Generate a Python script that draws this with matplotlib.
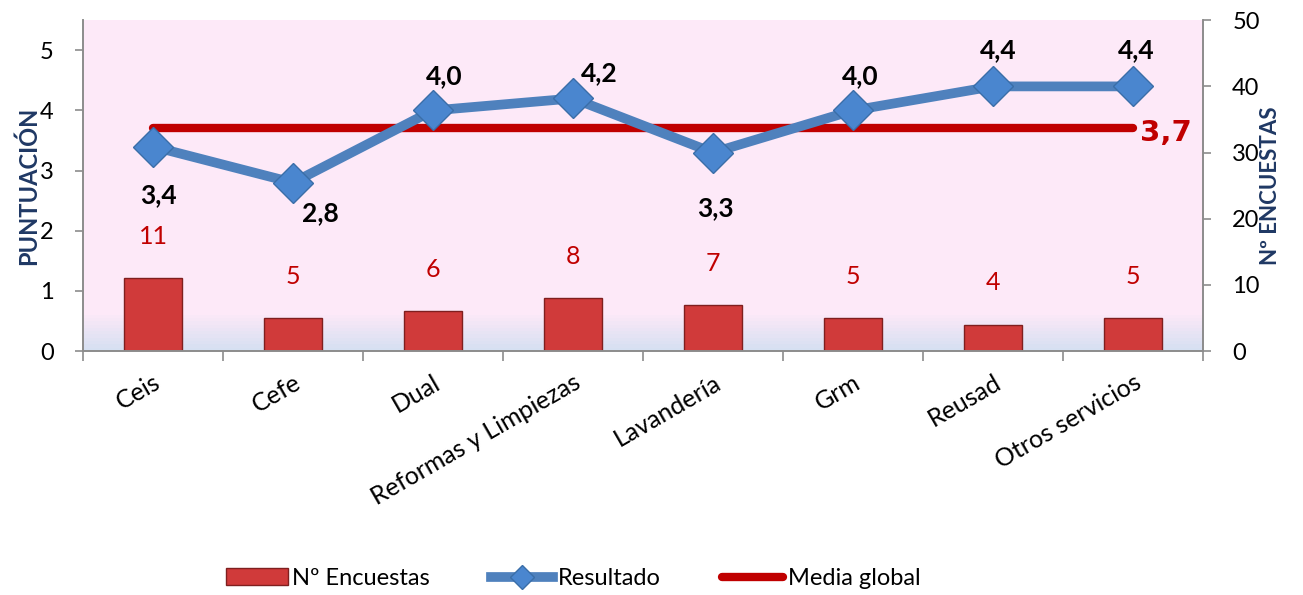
import matplotlib.pyplot as plt
import numpy as np
from matplotlib.lines import Line2D
from matplotlib.patches import Patch

plt.rcParams['font.family'] = ['Lato', 'DejaVu Sans']

categorias = ['Ceis', 'Cefe', 'Dual', 'Reformas y Limpiezas', 'Lavandería',
              'Grm', 'Reusad', 'Otros servicios']
resultado = [3.4, 2.8, 4.0, 4.2, 3.3, 4.0, 4.4, 4.4]
encuestas = [11, 5, 6, 8, 7, 5, 4, 5]
media_global = 3.7

# label offsets for the "Resultado" values (points)
off_res = [(4, -35), (20, -22), (8, 25), (19, 18), (2, -40), (5, 25), (4, 26), (2, 26)]

azul = '#4F81BD'
rojo = '#C00000'
gris = '#8C8C8C'

fig = plt.figure(figsize=(13.03, 5.95), dpi=100)
ax = fig.add_axes([0.0637, 0.410, 0.8596, 0.556])
ax2 = ax.twinx()

x = np.arange(len(categorias))

# background: pink with light blue fade at the bottom
grad = np.ones((100, 1, 3))
pink = np.array([253, 233, 248]) / 255
blue = np.array([214, 224, 242]) / 255
for i in range(100):
    t = i / 99
    f = min(1, max(0, (t - 0.89) / 0.11))
    grad[i, 0] = pink * (1 - f) + blue * f
ax2.imshow(grad, extent=[0, 1, 0, 1], transform=ax2.transAxes, aspect='auto',
           origin='upper', zorder=0)

# bars on the right axis
ax2.bar(x, encuestas, width=0.42, color='#D03A3A', edgecolor='#7F1F1F',
        linewidth=1, zorder=2)
for xi, v in zip(x, encuestas):
    ax2.annotate(str(v), (xi, v), xytext=(0, 30), textcoords='offset points',
                 ha='center', va='center', color=rojo, fontsize=18)
ax2.set_ylim(0, 50)
ax2.set_yticks(range(0, 51, 10))
ax2.set_ylabel('Nº ENCUESTAS', color='#1F3864', fontweight='bold', fontsize=16,
               labelpad=0)

# lines on the left axis, drawn above the bars
ax.set_zorder(ax2.get_zorder() + 1)
ax.patch.set_visible(False)
ax.plot([x[0], x[-1]], [media_global, media_global], color=rojo, lw=6,
        solid_capstyle='round', zorder=3)
ax.plot(x, resultado, color=azul, lw=7, marker='D', markersize=20,
        markerfacecolor='#4A86CF', markeredgecolor='#3A6EA8', zorder=4)
for xi, v, off in zip(x, resultado, off_res):
    ax.annotate(f'{v:.1f}'.replace('.', ','), (xi, v), xytext=off,
                textcoords='offset points', ha='center', va='center',
                fontsize=19, fontweight='bold', color='black')
ax.annotate(f'{media_global:.1f}'.replace('.', ','), (x[-1], media_global),
            xytext=(24, -3), textcoords='offset points', ha='center', va='center',
            fontsize=21, fontweight='bold', color=rojo,
            family=['Liberation Sans Narrow', 'DejaVu Sans'])

ax.set_xlim(-0.5, len(categorias) - 0.5)
ax.set_ylim(0, 5.5)
ax.set_yticks(range(0, 6))
ax.set_ylabel('PUNTUACIÓN', color='#1F3864', fontweight='bold', fontsize=17,
              labelpad=0)

ax.set_xticks(x)
ax.set_xticklabels(categorias, rotation=30, ha='right', rotation_mode='anchor',
                   fontsize=18)
ax.set_xticks(np.arange(-0.5, len(categorias)), minor=True)
ax.tick_params(axis='x', which='major', length=0, pad=14)
ax.tick_params(axis='x', which='minor', length=7, color=gris, width=1.2)
ax.tick_params(axis='y', length=6, color=gris, width=1.2, labelsize=17, pad=15)
ax2.tick_params(axis='y', length=6, color=gris, width=1.2, labelsize=17, pad=15)

for a in (ax, ax2):
    a.spines['top'].set_visible(False)
    for s in ('left', 'right', 'bottom'):
        a.spines[s].set_color(gris)
        a.spines[s].set_linewidth(1.2)

handles = [
    Patch(facecolor='#D03A3A', edgecolor='#7F1F1F', label='Nº Encuestas'),
    Line2D([], [], color=azul, lw=7, marker='D', markersize=12,
           markerfacecolor='#4A86CF', markeredgecolor='#3A6EA8', label='Resultado'),
    Line2D([], [], color=rojo, lw=6, solid_capstyle='round', label='Media global'),
]
fig.legend(handles=handles, loc='center', bbox_to_anchor=(0.44, 0.028), ncol=3,
           frameon=False, fontsize=17, handlelength=2.6, handletextpad=0.2,
           columnspacing=2.6)

fig.savefig('out.png', dpi=100)
